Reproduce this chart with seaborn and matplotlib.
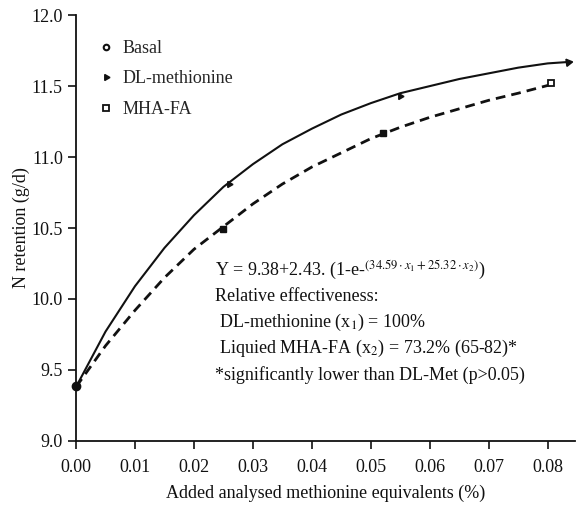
import matplotlib
matplotlib.use("Agg")
import matplotlib.pyplot as plt
from matplotlib.lines import Line2D
import pandas as pd
import seaborn as sns

# points
basal_x = [0.0]
basal_y = [9.39]
dl_x = [0.026, 0.055]
dl_y = [10.81, 11.43]
mha_x = [0.025, 0.052, 0.0805]
mha_y = [10.49, 11.17, 11.52]

# fitted curves
curve_x = [0.0, 0.005, 0.01, 0.015, 0.02, 0.025, 0.03, 0.035, 0.04, 0.045,
           0.05, 0.055, 0.06, 0.065, 0.07, 0.075, 0.08, 0.0835]
dl_curve = [9.38, 9.77, 10.09, 10.36, 10.59, 10.79, 10.95, 11.09, 11.20, 11.30,
            11.38, 11.45, 11.50, 11.55, 11.59, 11.63, 11.66, 11.67]
mha_curve_x = [0.0, 0.005, 0.01, 0.015, 0.02, 0.025, 0.03, 0.035, 0.04, 0.045,
               0.05, 0.055, 0.06, 0.065, 0.07, 0.075, 0.0805]
mha_curve = [9.38, 9.67, 9.92, 10.15, 10.35, 10.51, 10.67, 10.81, 10.93, 11.03,
             11.13, 11.21, 11.28, 11.34, 11.40, 11.45, 11.51]

x_ticks = [0.00, 0.01, 0.02, 0.03, 0.04, 0.05, 0.06, 0.07, 0.08]
y_ticks = [9.0, 9.5, 10.0, 10.5, 11.0, 11.5, 12.0]

sns.set_style("ticks")
plt.rcParams["font.family"] = ["Liberation Serif", "DejaVu Serif"]
plt.rcParams["mathtext.fontset"] = "stix"

fig = plt.figure(figsize=(5.76, 5.05), dpi=100)
ax = fig.add_axes([0.132, 0.127, 0.866, 0.843])

dl_df = pd.DataFrame({"x": curve_x, "y": dl_curve})
mha_df = pd.DataFrame({"x": mha_curve_x, "y": mha_curve})
sns.lineplot(data=dl_df, x="x", y="y", ax=ax, color="#111111", lw=1.5, sort=False)
sns.lineplot(data=mha_df, x="x", y="y", ax=ax, color="#111111", lw=2.0,
             sort=False).lines[-1].set_dashes((3.5, 2.2))

# arrow head at end of DL curve
ax.plot(curve_x[-1:], dl_curve[-1:], marker=(3, 0, -82), color="#111111", ms=6)

ax.plot(basal_x, basal_y, "o", color="#111111", ms=6, clip_on=False)
ax.plot(dl_x, dl_y, marker=(3, 0, -90), ls="none", color="#111111", ms=5)
ax.plot(mha_x[:2], mha_y[:2], "s", color="#111111", ms=4.5)
ax.plot(mha_x[2:], mha_y[2:], "s", mfc="white", mec="#111111", mew=1.3, ms=5)

ax.set_xlim(0, 0.0846)
ax.set_ylim(9.0, 12.0)
ax.set_xticks(x_ticks)
ax.set_xticklabels([f"{t:.2f}" for t in x_ticks])
ax.set_yticks(y_ticks)
ax.set_yticklabels([f"{t:.1f}" for t in y_ticks])
ax.tick_params(labelsize=13, length=6, width=1.2, color="#111111", labelcolor="#111111")
ax.tick_params(axis="x", pad=7)
for s in ["top", "right"]:
    ax.spines[s].set_visible(False)
for s in ["left", "bottom"]:
    ax.spines[s].set_linewidth(1.3)
    ax.spines[s].set_color("#111111")

ax.set_xlabel("Added analysed methionine equivalents (%)", fontsize=13, color="#111111", labelpad=6)
ax.set_ylabel("N retention (g/d)", fontsize=13, color="#111111", labelpad=1)

handles = [
    Line2D([], [], marker="o", ls="none", mfc="white", mec="#111111", mew=1.5, ms=4),
    Line2D([], [], marker=(3, 0, -90), ls="none", color="#111111", ms=5),
    Line2D([], [], marker="s", ls="none", mfc="white", mec="#111111", mew=1.3, ms=4.5),
]
ax.legend(handles, ["Basal", "DL-methionine", "MHA-FA"], loc="upper left",
          bbox_to_anchor=(0.01, 0.98), frameon=False, fontsize=13,
          handletextpad=0.4, labelspacing=0.75, handlelength=1.0)

lines = [
    r"Y = 9.38+2.43. (1-e-$^{(34.59\cdot x_1+25.32\cdot x_2)}$)",
    "Relative effectiveness:",
    r" DL-methionine (x$_1$) = 100%",
    r" Liquied MHA-FA (x$_2$) = 73.2% (65-82)*",
    "*significantly lower than DL-Met (p>0.05)",
]
for i, t in enumerate(lines):
    fig.text(215 / 576, 1 - (270 + i * 26.3) / 505, t, fontsize=13,
             color="#111111", va="center", ha="left")

fig.savefig("out.png", dpi=100)
